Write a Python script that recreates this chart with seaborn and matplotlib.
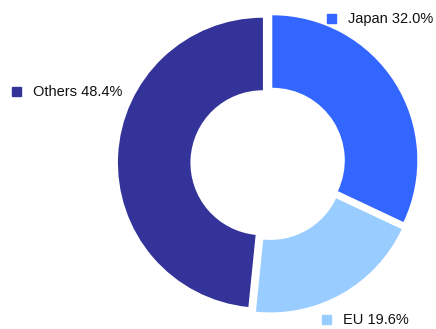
import matplotlib
matplotlib.use("Agg")
import matplotlib.pyplot as plt
import seaborn as sns

categories = ["Japan", "EU", "Others"]
values = [32.0, 19.6, 48.4]
colors = ["#3366ff", "#99ccff", "#333399"]

sns.set_theme(style="white")
plt.rcParams['font.family'] = ['Liberation Sans', 'DejaVu Sans']

W, H = 436, 329
fig = plt.figure(figsize=(W / 100, H / 100), dpi=100)
ax = fig.add_axes([0, 0, 1, 1])

cx, cy, R = 268, 163, 145  # pixel center (from top) and radius

palette = sns.color_palette(colors)
ax.pie(values, colors=palette, startangle=90, counterclock=False,
       explode=[0.035] * len(values), radius=1.0,
       wedgeprops=dict(width=0.5, edgecolor="none"), frame=False)
ax.set_xlim(-cx / R, (W - cx) / R)
ax.set_ylim(-(H - cy) / R, cy / R)
ax.set_aspect("auto")
ax.axis("off")

# label positions in figure pixels (marker center x, y from top)
label_pos = {"Japan": (331, 18), "EU": (326, 319), "Others": (16, 91)}
for cat, val, col in zip(categories, values, palette):
    mx, my = label_pos[cat]
    fig.patches.append(plt.Rectangle(((mx - 4.5) / W, 1 - (my + 4.5) / H), 9 / W, 9 / H,
                                     transform=fig.transFigure, color=col))
    fig.text((mx + 17) / W, 1 - (my + 1) / H, f"{cat} {val:.1f}%", fontsize=10.5,
             color="#111111", va="center", ha="left")

fig.savefig("out.png", dpi=100)
